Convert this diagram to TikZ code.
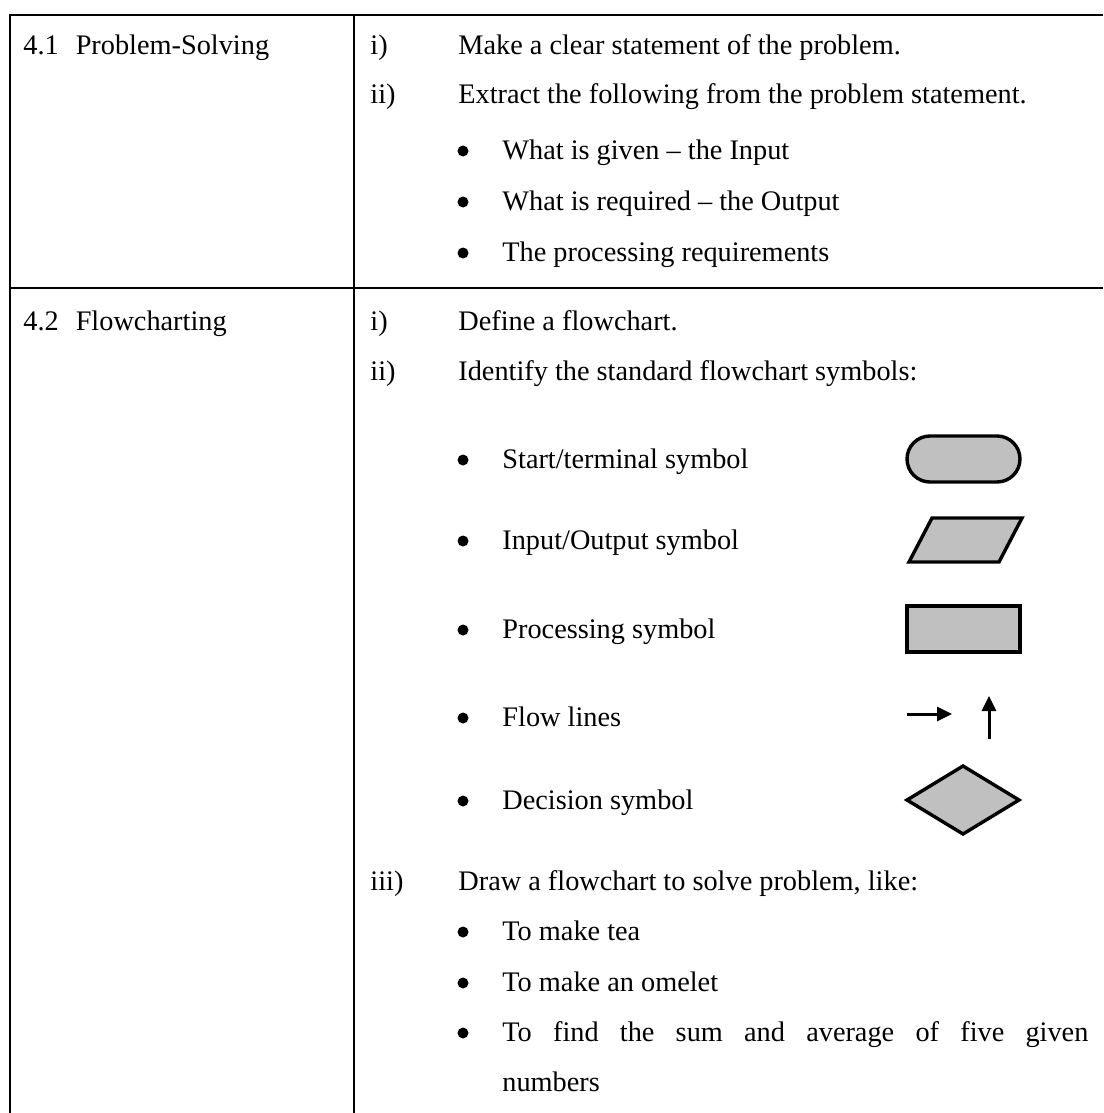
\documentclass[tikz,border=0pt]{standalone}
\usepackage{fontspec}
\setmainfont{Liberation Serif}
\usetikzlibrary{arrows.meta}
\definecolor{symgray}{HTML}{C0C0C0}
\begin{document}
\begin{tikzpicture}[x=0.5pt,y=-0.5pt,
  txt/.style={anchor=base west, inner sep=0pt, font=\fontsize{14.15pt}{17pt}\selectfont},
  rule/.style={line width=1pt, draw=black},
  sym/.style={draw=black, fill=symgray, line width=1.7pt, line join=miter},
  bul/.style={circle, fill=black, inner sep=0pt, minimum size=5.5pt},
  flow/.style={line width=1.5pt, -{Triangle[length=7.5pt,width=7pt]}}
]
\useasboundingbox (0,0) rectangle (1103,1113);
% table rules
\coordinate (tl) at (10,15);
\coordinate (tr) at (1103,15);
\coordinate (bl) at (10,1113);
\coordinate (ct) at (354,15);
\coordinate (cb) at (354,1113);
\coordinate (rl) at (10,288);
\coordinate (rr) at (1103,288);
\draw[rule] (tr) -- (tl) -- (bl);
\draw[rule] (ct) -- (cb);
\draw[rule] (rl) -- (rr);

% row 1
\node[txt] (h1) at (23,55) {4.1\hspace{0.6em}Problem-Solving};
\node[txt] (r1i) at (370,55) {i)};
\node[txt] (r1it) at (458,55) {Make a clear statement of the problem.};
\node[txt] (r1ii) at (370,104) {ii)};
\node[txt] (r1iit) at (458,104) {Extract the following from the problem statement.};
\node[bul] (b11) at (463,151) {};
\node[txt] (b11t) at (502,159) {What is given -- the Input};
\node[bul] (b12) at (463,202) {};
\node[txt] (b12t) at (502,210) {What is required -- the Output};
\node[bul] (b13) at (463,253) {};
\node[txt] (b13t) at (502,261) {The processing requirements};

% row 2
\node[txt] (h2) at (23,330) {4.2\hspace{0.6em}Flowcharting};
\node[txt] (r2i) at (370,330) {i)};
\node[txt] (r2it) at (458,330) {Define a flowchart.};
\node[txt] (r2ii) at (370,380) {ii)};
\node[txt] (r2iit) at (458,380) {Identify the standard flowchart symbols:};

\node[bul] (s1) at (463,460) {};
\node[txt] (s1t) at (502,468) {Start/terminal symbol};
\node[bul] (s2) at (463,541) {};
\node[txt] (s2t) at (502,549) {Input/Output symbol};
\node[bul] (s3) at (463,630) {};
\node[txt] (s3t) at (502,638) {Processing symbol};
\node[bul] (s4) at (463,718) {};
\node[txt] (s4t) at (502,726) {Flow lines};
\node[bul] (s5) at (463,801) {};
\node[txt] (s5t) at (502,809) {Decision symbol};

% symbols
\draw[sym, rounded corners=11.5pt] (907,436) rectangle (1020,482);
\draw[sym] (932,518) -- (1022,518) -- (999,562) -- (909,562) -- cycle;
\draw[sym] (907,606) rectangle (1020,652);
\coordinate (fa1) at (907,714);
\coordinate (fa2) at (952,714);
\coordinate (fb1) at (989,739);
\coordinate (fb2) at (989,696);
\draw[flow] (fa1) -- (fa2);
\draw[flow] (fb1) -- (fb2);
\draw[sym] (907,800) -- (963,766) -- (1019,800) -- (963,834) -- cycle;

\node[txt] (r2iii) at (370,890) {iii)};
\node[txt] (r2iiit) at (458,890) {Draw a flowchart to solve problem, like:};
\node[bul] (c1) at (463,932) {};
\node[txt] (c1t) at (502,940) {To make tea};
\node[bul] (c2) at (463,983) {};
\node[txt] (c2t) at (502,991) {To make an omelet};
\node[bul] (c3) at (463,1033) {};
\node[txt] (c3t) at (502,1041) {\makebox[586\dimexpr0.5pt\relax][s]{To find the sum and average of five given}};
\node[txt] (c3u) at (502,1091) {numbers};
\end{tikzpicture}
\end{document}
